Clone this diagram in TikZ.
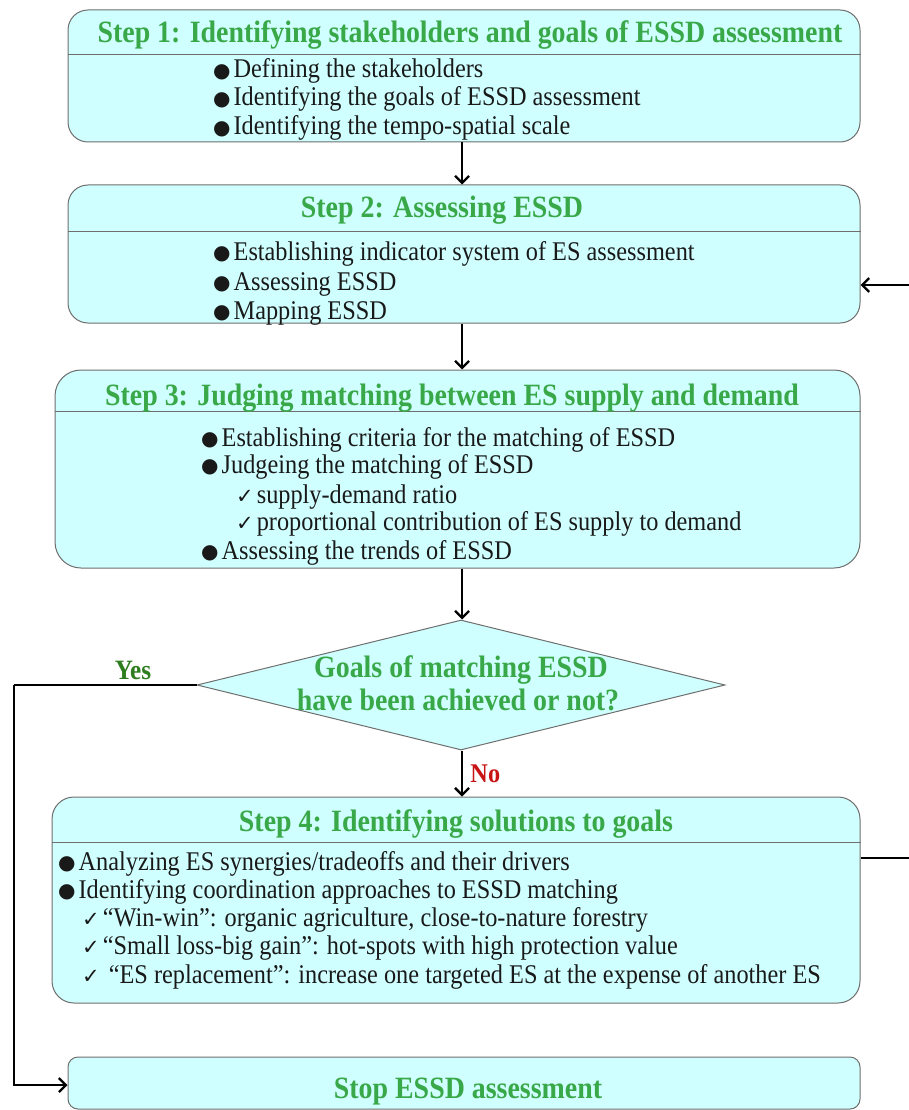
\documentclass[tikz,border=0pt]{standalone}
\usepackage{fontspec}
\setmainfont[FakeStretch=0.9]{Liberation Serif}
\newfontfamily\sym{DejaVu Sans}
\usetikzlibrary{shapes.geometric,arrows.meta}
\definecolor{boxfill}{RGB}{208,255,255}
\definecolor{boxgray}{RGB}{110,110,110}
\definecolor{titlegreen}{RGB}{56,168,72}
\definecolor{yesgreen}{RGB}{46,125,30}
\definecolor{nored}{RGB}{200,20,20}
\definecolor{bodytext}{RGB}{25,25,25}
\tikzset{
  stepbox/.style={draw=boxgray, fill=boxfill, line width=1pt, inner sep=0pt, rectangle},
  divider/.style={draw=boxgray, line width=1pt},
  title/.style={font=\bfseries\fontsize{31}{32}\selectfont, text=titlegreen, anchor=base, inner sep=0pt},
  body/.style={font=\fontsize{27}{28}\selectfont, text=bodytext, anchor=base west, inner sep=0pt},
  arr/.style={line width=2.3pt, -{Straight Barb[length=7pt,width=14pt,line width=2.3pt]}},
  plain/.style={line width=2.3pt},
}
\newcommand{\bul}{{\sym\fontsize{20}{20}\selectfont\raisebox{0.5pt}{●}}\hspace{3pt}}
\newcommand{\chk}{{\sym\fontsize{21}{20}\selectfont ✓}\hspace{3pt}}
\begin{document}
\begin{tikzpicture}[x=1pt,y=-1pt]
\useasboundingbox (0,0) rectangle (909,1110);
% Step 1
\node[stepbox, rounded corners=20pt, minimum width=792pt, minimum height=132pt] (s1) at (464,76) {};
\draw[divider] (s1.west |- 0,55) -- (s1.east |- 0,55);
\node[title] (t1) at (470,43) {Step 1: Identifying stakeholders and goals of ESSD assessment};
\node[body] (b11) at (213,78) {\bul Defining the stakeholders};
\node[body] (b12) at (213,106) {\bul Identifying the goals of ESSD assessment};
\node[body] (b13) at (213,135) {\bul Identifying the tempo-spatial scale};
% Step 2
\node[stepbox, rounded corners=20pt, minimum width=792pt, minimum height=138pt] (s2) at (464,254) {};
\draw[divider] (s2.west |- 0,231) -- (s2.east |- 0,231);
\node[title] (t2) at (442,217) {Step 2: Assessing ESSD};
\node[body] (b21) at (213,260) {\bul Establishing indicator system of ES assessment};
\node[body] (b22) at (213,290) {\bul Assessing ESSD};
\node[body] (b23) at (213,319) {\bul Mapping ESSD};
% Step 3
\node[stepbox, rounded corners=26pt, minimum width=805pt, minimum height=198pt] (s3) at (457.5,469) {};
\draw[divider] (s3.west |- 0,411) -- (s3.east |- 0,411);
\node[title] (t3) at (452,405) {Step 3: Judging matching between ES supply and demand};
\node[body] (b31) at (201,446) {\bul Establishing criteria for the matching of ESSD};
\node[body] (b32) at (201,473) {\bul Judgeing the matching of ESSD};
\node[body] (b33) at (236,503) {\chk supply-demand ratio};
\node[body] (b34) at (236,530) {\chk proportional contribution of ES supply to demand};
\node[body] (b35) at (201,559) {\bul Assessing the trends of ESSD};
% Decision
\node[diamond, draw=boxgray, fill=boxfill, line width=1pt, aspect=4.06, minimum width=528pt, minimum height=130pt, inner sep=0pt] (d) at (461,685) {};
\node[title] (dt1) at (461,677) {Goals of matching ESSD};
\node[title] (dt2) at (458,710) {have been achieved or not?};
% Step 4
\node[stepbox, rounded corners=22pt, minimum width=808pt, minimum height=206pt] (s4) at (456,900) {};
\draw[divider] (s4.west |- 0,842) -- (s4.east |- 0,842);
\node[title] (t4) at (456,831) {Step 4: Identifying solutions to goals};
\node[body] (b41) at (58,870) {\bul Analyzing ES synergies/tradeoffs and their drivers};
\node[body] (b42) at (58,898) {\bul Identifying coordination approaches to ESSD matching};
\node[body] (b43) at (82,926) {\chk “Win-win”: organic agriculture, close-to-nature forestry};
\node[body] (b44) at (82,954) {\chk “Small loss-big gain”: hot-spots with high protection value};
\node[body] (b45) at (82,983) {\chk \hspace{6pt}“ES replacement”: increase one targeted ES at the expense of another ES};
% Stop
\node[stepbox, rounded corners=10pt, minimum width=792pt, minimum height=52pt] (s5) at (464,1083) {};
\node[title] (t5) at (468,1098) {Stop ESSD assessment};
% connectors
\draw[arr] (s1.south -| 462,0) -- (s2.north -| 462,0);
\draw[arr] (s2.south -| 462,0) -- (s3.north -| 462,0);
\draw[arr] (s3.south -| 462,0) -- (d.north -| 462,0);
\draw[arr] (d.south -| 462,0) -- node[right=4pt, font=\bfseries\fontsize{27}{28}\selectfont, text=nored] (no) {No} (s4.north -| 462,0);
\coordinate (yc1) at (14,685);
\coordinate (yc2) at (14,1085);
\draw[plain] (d.west) -- (yc1);
\draw[arr] (yc1) -- (yc2) -- (s5.west |- yc2);
\node[font=\bfseries\fontsize{28}{28}\selectfont, text=yesgreen] (yes) at (133,670) {Yes};
\coordinate (fb2) at (909,285);
\coordinate (fb4) at (909,858);
\draw[arr] (fb2) -- (s2.east |- fb2);
\draw[plain] (s4.east |- fb4) -- (fb4);
\end{tikzpicture}
\end{document}
